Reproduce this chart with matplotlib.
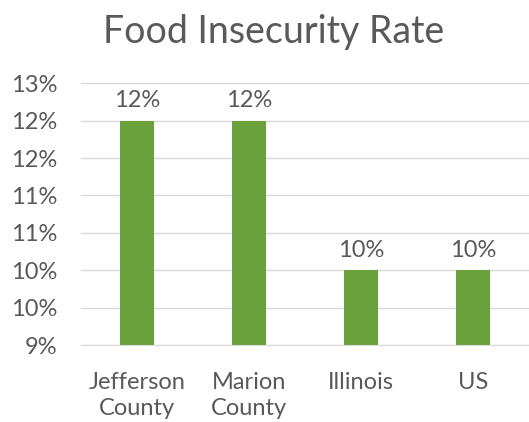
import numpy as np
from matplotlib import pyplot as plt
from matplotlib.ticker import FuncFormatter

categories = ['Jefferson\nCounty', 'Marion\nCounty', 'Illinois', 'US']
rates = [12.0, 12.0, 10.0, 10.0]
bar_labels = ['12%', '12%', '10%', '10%']

plt.rcParams['font.family'] = ['Lato', 'DejaVu Sans']
text_color = '#595959'

fig = plt.figure(figsize=(5.29, 4.22), dpi=100)
ax = fig.add_axes([0.153, 0.182, 0.847, 0.621])

x = np.arange(len(categories))
bars = ax.bar(x, rates, width=0.31, color='#6aa13b', zorder=3)

ax.set_ylim(9, 12.5)
ax.set_xlim(-0.5, len(categories) - 0.5)
ax.set_yticks(np.arange(9, 12.51, 0.5))
# Excel-style rounding: half values round up
ax.yaxis.set_major_formatter(FuncFormatter(lambda v, p: f"{int(np.floor(v + 0.5))}%"))
ax.grid(axis='y', color='#d9d9d9', linewidth=1, zorder=0)

for b, lab in zip(bars, bar_labels):
    ax.annotate(lab, (b.get_x() + b.get_width() / 2, b.get_height()),
                xytext=(0, 7), textcoords='offset points',
                ha='center', va='bottom', fontsize=17, color=text_color)

ax.set_xticks(x)
ax.set_xticklabels(categories, fontsize=17, color=text_color, linespacing=1.3)
ax.tick_params(axis='y', labelsize=17, labelcolor=text_color, length=0, pad=17)
ax.tick_params(axis='x', length=0, pad=19)

for side in ['top', 'right', 'left']:
    ax.spines[side].set_visible(False)
ax.spines['bottom'].set_color('#d9d9d9')

fig.text(0.518, 0.925, 'Food Insecurity Rate', ha='center', va='center',
         fontsize=27, color=text_color)

fig.savefig('out.png', dpi=100)
